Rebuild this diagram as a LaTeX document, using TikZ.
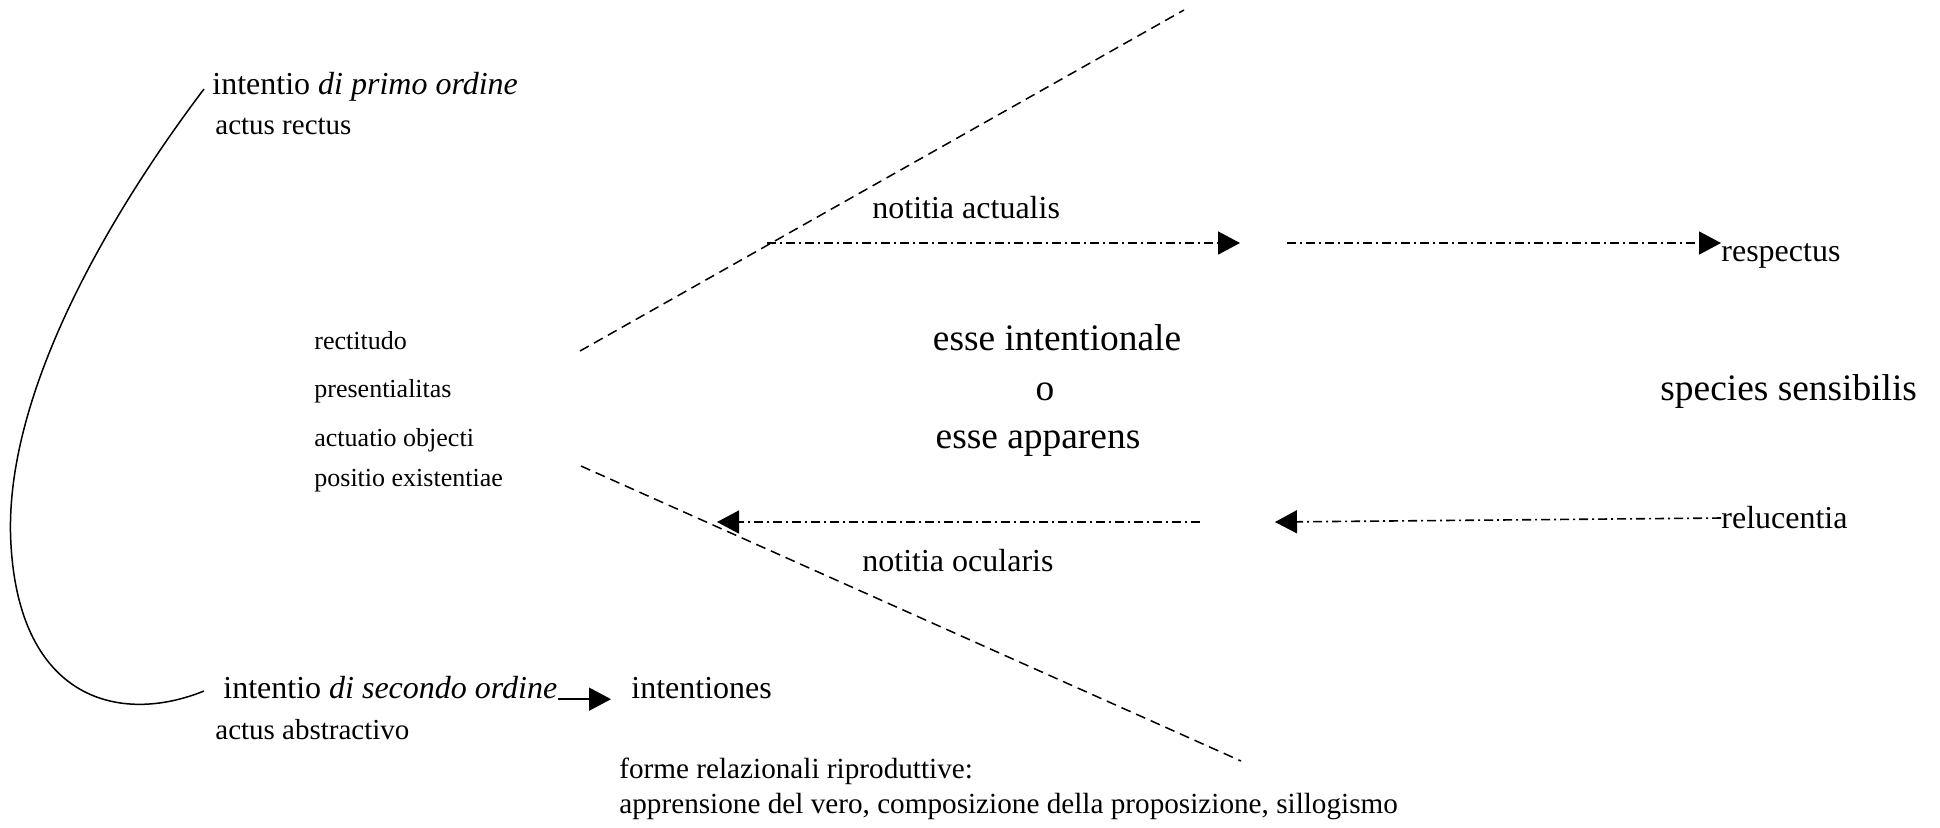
\documentclass[tikz,border=0pt]{standalone}
\usepackage{fontspec}
\setmainfont{Liberation Serif}
\usetikzlibrary{arrows.meta}
\begin{document}
\begin{tikzpicture}[x=0.5pt,y=-0.5pt,
  txt/.style={anchor=west,inner sep=0pt,font=\fontsize{16}{18}\selectfont},
  ftxt/.style={anchor=west,inner sep=0pt,font=\fontsize{14.6}{17}\selectfont},
  sm/.style={anchor=west,inner sep=0pt,font=\fontsize{14.5}{16}\selectfont},
  xs/.style={anchor=west,inner sep=0pt,font=\fontsize{13}{15}\selectfont},
  big/.style={inner sep=0pt,font=\fontsize{18.7}{21}\selectfont},
  dashln/.style={line width=0.75pt,dash pattern=on 5pt off 3pt},
  dotarr/.style={line width=0.8pt,dash pattern=on 4.5pt off 2pt on 1pt off 2pt,-{Triangle[length=11pt,width=11.5pt]}},
  solidarr/.style={line width=0.8pt,-{Triangle[length=11pt,width=11.5pt]}},
  curve/.style={line width=0.75pt}]
\useasboundingbox (0,0) rectangle (1940,827);
% texts
\node[txt] (i1) at (212,87) {intentio \textit{di primo ordine}};
\node[sm] (ar) at (215,126) {actus rectus};
\node[xs] (r1) at (314,341) {rectitudo};
\node[xs] (r2) at (314,391) {presentialitas};
\node[xs] (r3) at (314,440) {actuatio objecti};
\node[xs] (r4) at (314,481) {positio existentiae};
\node[big] (e1) at (1057,338) {esse intentionale};
\node[big] (eo) at (1045,392) {o};
\node[big] (e2) at (1038,444) {esse apparens};
\node[big,anchor=west] (sp) at (1660,391) {species sensibilis};
\node[txt] (na) at (872,208) {notitia actualis};
\node[txt] (re) at (1721,256) {respectus};
\node[txt] (rl) at (1721,518) {relucentia};
\node[txt] (no) at (862,561) {notitia ocularis};
\node[txt] (i2) at (223,688) {intentio \textit{di secondo ordine}};
\node[sm] (aa) at (215,730) {actus abstractivo};
\node[txt] (it) at (631,688) {intentiones};
\node[ftxt] (f1) at (619,771) {forme relazionali riproduttive:};
\node[ftxt] (f2) at (619,807) {apprensione del vero, composizione della proposizione, sillogismo};
% coordinates
\coordinate (u1) at (580,351);
\coordinate (u2) at (1184,10);
\coordinate (l1) at (581,466);
\coordinate (l2) at (1241,761);
\coordinate (a1s) at (767,243);
\coordinate (a1e) at (1240,243);
\coordinate (a2s) at (1287,243);
\coordinate (b1s) at (1200,522);
\coordinate (b1e) at (717,522);
\coordinate (b2e) at (1275,522);
\coordinate (c1) at (204,89);
\coordinate (c2) at (204,691);
% dashed lines
\draw[dashln] (u1) -- (u2);
\draw[dashln] (l1) -- (l2);
% arrows
\draw[dotarr] (a1s) -- (a1e);
\draw[dotarr] (a2s) -- (re.west |- a2s);
\draw[dotarr] (b1s) -- (b1e);
\draw[dotarr] (rl.west) -- (b2e);
\draw[solidarr,shorten >=10pt] (i2.south east) ++(0,-0.5) coordinate (sa) -- (it.west |- sa);
% curve
\draw[curve] (c1) .. controls (105,220) and (2,400) .. (11,545)
  .. controls (20,700) and (120,725) .. (c2);
\end{tikzpicture}
\end{document}
